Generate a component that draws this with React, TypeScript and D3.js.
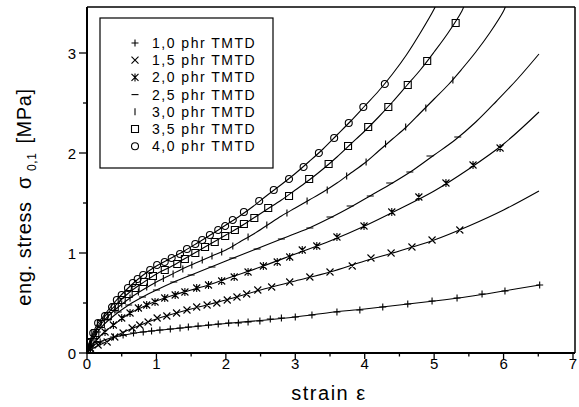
import React from "react";
import * as d3 from "d3";

type P = [number, number];

const seriesNames = ["1,0 phr TMTD", "1,5 phr TMTD", "2,0 phr TMTD", "2,5 phr TMTD", "3,0 phr TMTD", "3,5 phr TMTD", "4,0 phr TMTD"];
const seriesSymbols = ["plus", "cross", "star", "dash", "bar", "square", "circle"];

const xTicks = [0, 1, 2, 3, 4, 5, 6, 7];
const yTicks = [0, 1, 2, 3];

// fitted curves (strain, stress)
const line10: P[] = [[0,0],[0.03,0.04],[0.08,0.07],[0.15,0.1],[0.25,0.13],[0.4,0.16],[0.7,0.2],[1,0.225],[1.5,0.26],[2,0.295],[2.5,0.325],[3,0.36],[3.5,0.405],[4,0.44],[4.5,0.48],[5,0.52],[5.5,0.565],[6,0.62],[6.52,0.68]];
const line15: P[] = [[0,0],[0.05,0.03],[0.15,0.07],[0.3,0.12],[0.5,0.2],[0.7,0.26],[1,0.34],[1.5,0.44],[2,0.53],[2.5,0.63],[3,0.72],[3.5,0.81],[4,0.92],[4.5,1.02],[5,1.13],[5.5,1.27],[6,1.43],[6.51,1.62]];
const line20: P[] = [[0,0],[0.03,0.04],[0.08,0.09],[0.15,0.14],[0.25,0.21],[0.4,0.29],[0.6,0.39],[0.8,0.46],[1,0.52],[1.25,0.58],[1.5,0.63],[1.75,0.68],[2,0.74],[2.5,0.86],[3,0.99],[3.5,1.12],[4,1.27],[4.5,1.44],[5,1.62],[5.5,1.84],[6,2.09],[6.51,2.41]];
const line25: P[] = [[0,0],[0.03,0.06],[0.08,0.13],[0.15,0.21],[0.25,0.29],[0.4,0.38],[0.6,0.48],[0.8,0.56],[1,0.63],[1.25,0.71],[1.5,0.78],[1.75,0.85],[2,0.92],[2.4,1.03],[2.8,1.14],[3.2,1.25],[3.5,1.35],[3.8,1.46],[4.1,1.58],[4.4,1.7],[4.7,1.83],[5,1.98],[5.3,2.13],[5.6,2.31],[5.9,2.52],[6.2,2.74],[6.51,2.99]];
const line30: P[] = [[0,0],[0.03,0.07],[0.08,0.15],[0.15,0.24],[0.25,0.33],[0.4,0.43],[0.6,0.54],[0.8,0.63],[1,0.71],[1.2,0.78],[1.4,0.85],[1.6,0.91],[1.8,0.97],[2,1.03],[2.2,1.11],[2.4,1.19],[2.6,1.28],[2.8,1.37],[3,1.45],[3.2,1.53],[3.4,1.61],[3.6,1.7],[3.8,1.8],[4,1.9],[4.2,2.02],[4.4,2.14],[4.6,2.26],[4.8,2.4],[5,2.54],[5.2,2.68],[5.4,2.84],[5.6,3.01],[5.8,3.2],[6,3.42],[6.03,3.47]];
const line35: P[] = [[0,0],[0.03,0.08],[0.08,0.17],[0.15,0.26],[0.25,0.36],[0.4,0.47],[0.6,0.6],[0.8,0.7],[1,0.79],[1.2,0.86],[1.4,0.94],[1.6,1.02],[1.8,1.1],[2,1.18],[2.2,1.26],[2.4,1.35],[2.6,1.44],[2.8,1.53],[3,1.63],[3.2,1.73],[3.4,1.84],[3.6,1.96],[3.8,2.09],[4,2.22],[4.2,2.36],[4.4,2.51],[4.6,2.67],[4.8,2.83],[5,3.01],[5.2,3.2],[5.4,3.42],[5.43,3.47]];
const line40: P[] = [[0,0],[0.03,0.1],[0.08,0.19],[0.15,0.29],[0.25,0.38],[0.4,0.51],[0.6,0.655],[0.8,0.775],[1,0.87],[1.2,0.945],[1.4,1.02],[1.6,1.105],[1.8,1.19],[2,1.28],[2.2,1.37],[2.4,1.47],[2.6,1.58],[2.8,1.685],[3,1.795],[3.2,1.915],[3.4,2.04],[3.6,2.18],[3.8,2.32],[4,2.47],[4.2,2.62],[4.4,2.79],[4.6,2.98],[4.8,3.2],[5,3.44],[5.02,3.47]];

// measured points (strain, stress)
const pts10: P[] = [[0.05,0.06],[0.19,0.11],[0.38,0.16],[0.52,0.18],[0.67,0.2],[0.81,0.21],[0.93,0.22],[1.05,0.23],[1.2,0.24],[1.34,0.25],[1.46,0.26],[1.6,0.27],[1.75,0.28],[1.89,0.29],[2.04,0.3],[2.18,0.3],[2.32,0.31],[2.49,0.32],[2.64,0.34],[2.8,0.35],[3.0,0.36],[3.24,0.38],[3.6,0.41],[3.93,0.43],[4.26,0.46],[4.62,0.49],[4.97,0.52],[5.33,0.55],[5.69,0.59],[6.02,0.62],[6.52,0.68]];
const pts15: P[] = [[0.05,0.04],[0.16,0.08],[0.29,0.11],[0.4,0.16],[0.52,0.2],[0.65,0.25],[0.76,0.28],[0.88,0.31],[1.01,0.35],[1.15,0.37],[1.29,0.4],[1.44,0.43],[1.58,0.46],[1.73,0.48],[1.87,0.5],[2.02,0.53],[2.16,0.56],[2.3,0.59],[2.46,0.63],[2.66,0.66],[2.92,0.71],[3.21,0.76],[3.5,0.81],[3.82,0.87],[4.09,0.95],[4.38,1.0],[4.68,1.06],[4.97,1.13],[5.37,1.23]];
const pts20: P[] = [[0.05,0.05],[0.14,0.13],[0.26,0.21],[0.38,0.28],[0.5,0.35],[0.62,0.4],[0.74,0.45],[0.86,0.48],[0.98,0.51],[1.12,0.55],[1.27,0.58],[1.41,0.61],[1.58,0.65],[1.75,0.68],[1.94,0.72],[2.12,0.76],[2.32,0.81],[2.54,0.87],[2.74,0.91],[2.92,0.96],[3.1,1.03],[3.31,1.07],[3.6,1.16],[3.99,1.27],[4.39,1.41],[4.78,1.56],[5.17,1.7],[5.56,1.88],[5.95,2.05]];
const pts25: P[] = [[0.05,0.09],[0.15,0.21],[0.3,0.33],[0.45,0.41],[0.6,0.48],[0.8,0.56],[1.0,0.63],[1.25,0.71],[1.5,0.78],[1.8,0.86],[2.1,0.95],[2.45,1.04],[2.8,1.14],[3.21,1.25],[3.5,1.36],[3.79,1.47],[4.08,1.57],[4.36,1.7],[4.65,1.81],[4.94,1.97],[5.34,2.16]];
const pts30: P[] = [[0.05,0.1],[0.12,0.2],[0.2,0.29],[0.3,0.37],[0.4,0.43],[0.5,0.49],[0.62,0.55],[0.74,0.61],[0.86,0.66],[0.98,0.7],[1.1,0.745],[1.24,0.79],[1.38,0.84],[1.51,0.88],[1.66,0.93],[1.8,0.97],[1.94,1.01],[2.1,1.07],[2.32,1.16],[2.59,1.28],[2.88,1.4],[3.17,1.52],[3.46,1.63],[3.74,1.77],[4.02,1.91],[4.3,2.09],[4.59,2.26],[4.88,2.45],[5.27,2.73]];
const pts35: P[] = [[0.05,0.11],[0.12,0.2],[0.2,0.29],[0.3,0.37],[0.4,0.46],[0.5,0.53],[0.6,0.59],[0.7,0.65],[0.82,0.71],[0.95,0.77],[1.12,0.83],[1.3,0.89],[1.41,0.94],[1.56,1.0],[1.7,1.06],[1.84,1.11],[1.99,1.17],[2.13,1.23],[2.26,1.29],[2.41,1.35],[2.61,1.45],[2.91,1.57],[3.2,1.74],[3.48,1.89],[3.76,2.07],[4.05,2.26],[4.34,2.46],[4.62,2.68],[4.9,2.92],[5.31,3.3]];
const pts40: P[] = [[0.02,0.1],[0.09,0.2],[0.16,0.3],[0.26,0.37],[0.36,0.46],[0.43,0.53],[0.5,0.58],[0.59,0.65],[0.66,0.7],[0.73,0.74],[0.81,0.78],[0.91,0.83],[1.01,0.88],[1.12,0.91],[1.22,0.95],[1.34,0.99],[1.44,1.04],[1.56,1.09],[1.66,1.13],[1.77,1.18],[1.89,1.23],[1.99,1.27],[2.1,1.33],[2.26,1.41],[2.48,1.52],[2.69,1.63],[2.91,1.74],[3.12,1.86],[3.34,2.0],[3.56,2.15],[3.77,2.3],[3.98,2.46],[4.29,2.69]];

const lines = [line10, line15, line20, line25, line30, line35, line40];
const points = [pts10, pts15, pts20, pts25, pts30, pts35, pts40];

const W = 579, H = 407;
const left = 87, right = 575, top = 7, bottom = 353;
const x = d3.scaleLinear().domain([0, 7]).range([87, 573]);
const y = d3.scaleLinear().domain([0, 3]).range([353, 53]);

function symbolPath(kind: string, cx: number, cy: number): string {
  const s = 3.5;
  switch (kind) {
    case "plus": return `M${cx - s},${cy}H${cx + s}M${cx},${cy - s}V${cy + s}`;
    case "cross": return `M${cx - s},${cy - s}L${cx + s},${cy + s}M${cx - s},${cy + s}L${cx + s},${cy - s}`;
    case "star": return `M${cx - s},${cy - s}L${cx + s},${cy + s}M${cx - s},${cy + s}L${cx + s},${cy - s}M${cx},${cy - s - 0.5}V${cy + s + 0.5}`;
    case "dash": return `M${cx - s},${cy}H${cx + s}`;
    case "bar": return `M${cx},${cy - s}V${cy + s}`;
    case "square": return `M${cx - s},${cy - s}h${2 * s}v${2 * s}h${-2 * s}Z`;
    case "circle": return `M${cx - s},${cy}a${s},${s} 0 1,0 ${2 * s},0a${s},${s} 0 1,0 ${-2 * s},0Z`;
  }
  return "";
}

export default function App() {
  const lineGen = d3.line<P>().x(d => x(d[0])).y(d => y(d[1])).curve(d3.curveCatmullRom.alpha(0.5));
  const font = "'Liberation Sans', Arial, sans-serif";
  const xMinor = d3.range(0.5, 7, 1);
  const yMinor = d3.range(0.5, 3.5, 1);
  const legendX = 135, legendTextX = 152, legendY0 = 43, legendDy = 17.2;
  return (
    <svg width={W} height={H} style={{ position: "absolute", left: 0, top: 0, background: "#fff" }} fontFamily={font}>
      <defs>
        <clipPath id="plot"><rect x={left} y={top} width={right - left} height={bottom - top} /></clipPath>
      </defs>
      <rect x={0} y={0} width={W} height={H} fill="#fff" />
      <line x1={left} x2={right} y1={top} y2={top} stroke="#000" strokeWidth={1.5} />
      <line x1={right} x2={right} y1={top} y2={bottom} stroke="#000" strokeWidth={1.5} />
      <g clipPath="url(#plot)">
        {lines.map((l, i) => (
          <path key={"l" + i} d={lineGen(l) || ""} fill="none" stroke="#000" strokeWidth={1.1} />
        ))}
        {points.map((ps, i) => (
          <path key={"p" + i}
            d={ps.map(p => symbolPath(seriesSymbols[i], x(p[0]), y(p[1]))).join("")}
            fill="none" stroke="#000" strokeWidth={1.1} />
        ))}
      </g>
      <line x1={left} x2={left} y1={top} y2={bottom + 1} stroke="#000" strokeWidth={2} />
      <line x1={left - 1} x2={right} y1={bottom} y2={bottom} stroke="#000" strokeWidth={2} />
      {xTicks.map(t => (
        <g key={"xt" + t}>
          <line x1={x(t)} x2={x(t)} y1={bottom} y2={bottom + 6} stroke="#000" strokeWidth={1.3} />
          <text x={x(t)} y={bottom + 16} fontSize={15} textAnchor="middle">{t}</text>
        </g>
      ))}
      {xMinor.map(t => (
        <line key={"xm" + t} x1={x(t)} x2={x(t)} y1={bottom} y2={bottom + 3.5} stroke="#000" strokeWidth={1.3} />
      ))}
      {yTicks.map(t => (
        <g key={"yt" + t}>
          <line x1={left - 8} x2={left} y1={y(t)} y2={y(t)} stroke="#000" strokeWidth={1.3} />
          <text x={left - 11} y={y(t) + 5.5} fontSize={15} textAnchor="end">{t}</text>
        </g>
      ))}
      {yMinor.map(t => (
        <line key={"ym" + t} x1={left - 4} x2={left} y1={y(t)} y2={y(t)} stroke="#000" strokeWidth={1.3} />
      ))}
      <text x={329} y={400} fontSize={20} letterSpacing={1.5} textAnchor="middle">strain ε</text>
      <text transform={`translate(31,197) rotate(-90)`} fontSize={20} letterSpacing={0.6} textAnchor="middle" xmlSpace="preserve">
        eng. stress  σ<tspan fontSize={12} dx={5} dy={5}>0,1</tspan><tspan dx={9} dy={-5}>[MPa]</tspan>
      </text>
      <rect x={100} y={18} width={173} height={150} fill="#fff" stroke="#000" strokeWidth={1.2} />
      {seriesNames.map((n, i) => (
        <g key={"lg" + i}>
          <path d={symbolPath(seriesSymbols[i], legendX, legendY0 + i * legendDy)} fill="none" stroke="#000" strokeWidth={1.1} />
          <text x={legendTextX} y={legendY0 + i * legendDy + 5} fontSize={14} letterSpacing={1.5}>{n}</text>
        </g>
      ))}
    </svg>
  );
}
